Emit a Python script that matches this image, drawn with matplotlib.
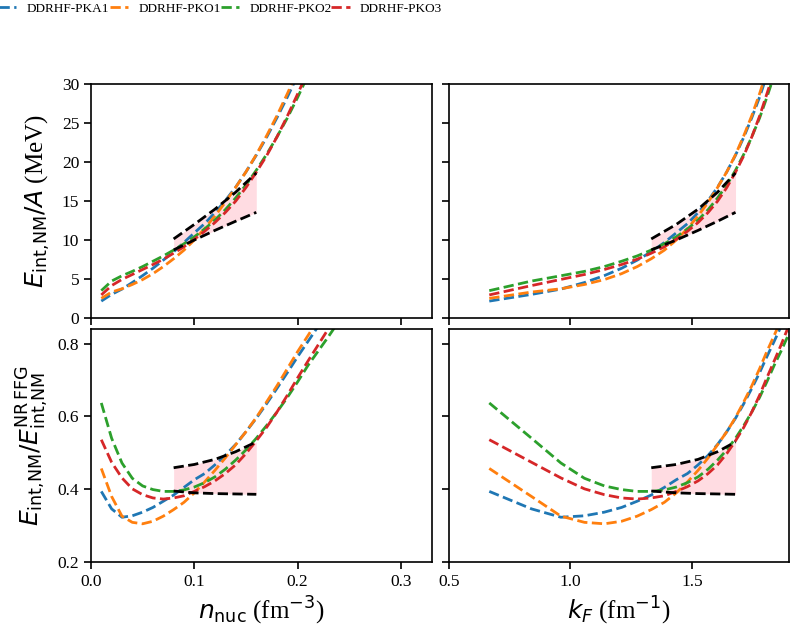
import numpy as np
import matplotlib
matplotlib.use('Agg')
import matplotlib.pyplot as plt

plt.rcParams['font.family'] = ['Liberation Serif', 'DejaVu Serif']
plt.rcParams['mathtext.fontset'] = 'dejavusans'
plt.rcParams['axes.linewidth'] = 1.2

# nucleon density grid and matching Fermi momenta
n_nuc = [0.01, 0.02, 0.03, 0.04, 0.05, 0.06, 0.07, 0.08, 0.09, 0.10, 0.11, 0.12,
         0.13, 0.14, 0.15, 0.16, 0.17, 0.18, 0.19, 0.20, 0.21, 0.22, 0.23, 0.24]
k_f = [0.666, 0.840, 0.961, 1.058, 1.140, 1.211, 1.275, 1.333, 1.387, 1.436, 1.482, 1.526,
       1.567, 1.606, 1.644, 1.680, 1.714, 1.747, 1.779, 1.809, 1.839, 1.868, 1.895, 1.922]

labels = ['DDRHF-PKA1', 'DDRHF-PKO1', 'DDRHF-PKO2', 'DDRHF-PKO3']
colors = ['tab:blue', 'tab:orange', 'tab:green', 'tab:red']

# energy per particle (MeV)
e_pka1 = [2.17, 3.03, 3.71, 4.55, 5.44, 6.38, 7.42, 8.49, 9.68, 10.92, 12.10, 13.52,
          15.05, 16.77, 18.74, 20.88, 23.18, 25.68, 28.32, 31.10, 33.89, 36.77]
e_pko1 = [2.52, 3.33, 3.75, 4.30, 4.93, 5.69, 6.59, 7.60, 8.70, 10.00, 11.47, 13.09,
          14.84, 16.74, 18.74, 20.95, 23.37, 25.95, 28.75, 31.67, 34.56, 37.55]
e_pko2 = [3.51, 4.74, 5.42, 5.98, 6.60, 7.28, 7.96, 8.71, 9.52, 10.41, 11.42, 12.57,
          13.89, 15.39, 17.06, 18.95, 20.99, 23.22, 25.64, 28.29, 31.11, 33.82, 36.63, 39.61]
e_pko3 = [2.96, 4.16, 4.95, 5.58, 6.22, 6.86, 7.54, 8.31, 9.13, 10.10, 11.12, 12.25,
          13.53, 14.98, 16.73, 18.70, 20.81, 23.22, 25.88, 28.73, 31.62, 34.56, 37.61, 40.71]

# ratio to the non-relativistic free Fermi gas
r_pka1 = [0.394, 0.346, 0.323, 0.327, 0.337, 0.350, 0.367, 0.384, 0.405, 0.426, 0.443, 0.467,
          0.493, 0.523, 0.558, 0.595, 0.635, 0.677, 0.720, 0.764, 0.806, 0.848]
r_pko1 = [0.457, 0.380, 0.326, 0.309, 0.305, 0.312, 0.326, 0.344, 0.364, 0.390, 0.420, 0.452,
          0.486, 0.522, 0.558, 0.597, 0.640, 0.684, 0.731, 0.778, 0.822, 0.866]
r_pko2 = [0.637, 0.540, 0.472, 0.430, 0.409, 0.399, 0.394, 0.394, 0.398, 0.406, 0.418, 0.434,
          0.455, 0.480, 0.508, 0.540, 0.575, 0.612, 0.652, 0.695, 0.740, 0.780, 0.820, 0.862]
r_pko3 = [0.536, 0.474, 0.431, 0.401, 0.385, 0.376, 0.373, 0.376, 0.382, 0.394, 0.407, 0.423,
          0.443, 0.467, 0.498, 0.533, 0.570, 0.612, 0.658, 0.706, 0.752, 0.797, 0.842, 0.886]

# constraint band around saturation
band_n = [0.08, 0.10, 0.12, 0.14, 0.16]
band_kf = [1.333, 1.436, 1.526, 1.606, 1.680]
band_e_low = [8.73, 10.00, 11.24, 12.41, 13.55]
band_e_high = [10.14, 12.00, 13.96, 16.13, 18.60]
band_r_low = [0.395, 0.390, 0.388, 0.387, 0.386]
band_r_high = [0.459, 0.468, 0.482, 0.503, 0.530]

energies = [e_pka1, e_pko1, e_pko2, e_pko3]
ratios = [r_pka1, r_pko1, r_pko2, r_pko3]

fig = plt.figure(figsize=(7.91, 6.30), dpi=100)
ax_tl = fig.add_axes([0.1150, 0.4952, 0.4311, 0.3714])
ax_tr = fig.add_axes([0.5676, 0.4952, 0.4298, 0.3714])
ax_bl = fig.add_axes([0.1150, 0.1079, 0.4311, 0.3698])
ax_br = fig.add_axes([0.5676, 0.1079, 0.4298, 0.3698])


def draw_panel(ax, xs, ys_list, bx, blo, bhi):
    ax.fill_between(bx, blo, bhi, color='pink', alpha=0.55, lw=0)
    handles = []
    for ys, c, lab in zip(ys_list, colors, labels):
        h, = ax.plot(xs[:len(ys)], ys, '--', color=c, lw=2, label=lab)
        handles.append(h)
    ax.plot(bx, blo, '--', color='black', lw=2)
    ax.plot(bx, bhi, '--', color='black', lw=2)
    ax.tick_params(labelsize=12.5, length=5, width=1.2)
    return handles


handles = draw_panel(ax_tl, n_nuc, energies, band_n, band_e_low, band_e_high)
draw_panel(ax_tr, k_f, energies, band_kf, band_e_low, band_e_high)
draw_panel(ax_bl, n_nuc, ratios, band_n, band_r_low, band_r_high)
draw_panel(ax_br, k_f, ratios, band_kf, band_r_low, band_r_high)

for ax in [ax_tl, ax_tr]:
    ax.set_ylim(0, 30)
    ax.set_yticks([0, 5, 10, 15, 20, 25, 30])
for ax in [ax_bl, ax_br]:
    ax.set_ylim(0.2, 0.84)
    ax.set_yticks([0.2, 0.4, 0.6, 0.8])
for ax in [ax_tl, ax_bl]:
    ax.set_xlim(0, 0.33)
    ax.set_xticks([0.0, 0.1, 0.2, 0.3])
for ax in [ax_tr, ax_br]:
    ax.set_xlim(0.5, 1.9)
    ax.set_xticks([0.5, 1.0, 1.5])
    ax.tick_params(labelleft=False)
for ax in [ax_tl, ax_tr]:
    ax.tick_params(labelbottom=False)

ax_tl.set_ylabel(r'$E_{\rm int{,}NM}/A$ (MeV)', fontsize=18)
ax_bl.set_ylabel(r'$E_{\rm int{,}NM}/E^{\rm NR\,FFG}_{\rm int{,}NM}$', fontsize=18)
ax_tl.yaxis.set_label_coords(-0.115, 0.5)
ax_bl.yaxis.set_label_coords(-0.118, 0.5)
ax_bl.set_xlabel(r'$n_{\rm nuc}$ (fm$^{-3}$)', fontsize=18, labelpad=4)
ax_br.set_xlabel(r'$k_F$ (fm$^{-1}$)', fontsize=18, labelpad=4)

fig.legend(handles, labels, loc='upper left', bbox_to_anchor=(-0.002, 0.996),
           ncol=4, frameon=False, fontsize=9.5, handlelength=1.37, handletextpad=0.8,
           columnspacing=0.0, borderpad=0, borderaxespad=0)

fig.savefig('out.png', dpi=100)
